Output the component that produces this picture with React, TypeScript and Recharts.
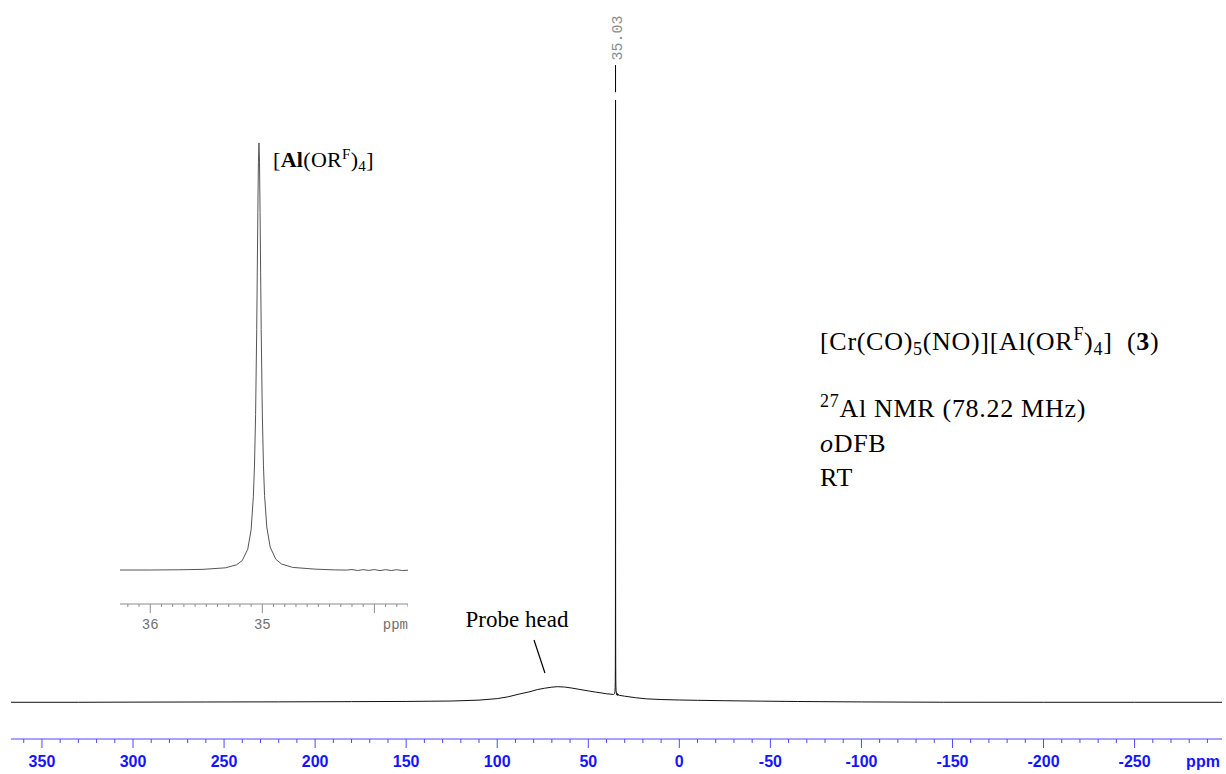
import React from 'react';
import { LineChart, Line, XAxis, YAxis, ReferenceLine } from 'recharts';

// 27Al spectrum: [chemical shift (ppm), intensity (tallest peak = 100)]
const baselineLowField: [number, number][] = [
  [367, 0.09], [330, 0.09], [300, 0.12], [260, 0.14], [220, 0.16], [180, 0.2],
  [150, 0.23], [125, 0.3], [110, 0.45], [100, 0.7],
];
const probeHeadHump: [number, number][] = [
  [94, 1.0], [88, 1.45], [82, 1.85], [78, 2.2], [74, 2.42], [70, 2.6], [67, 2.68],
  [63, 2.62], [59, 2.45], [55, 2.24], [50, 1.98], [46, 1.78], [43, 1.65], [40, 1.5],
  [37, 1.42],
];
const aluminatePeak: [number, number][] = [
  [36.27, 1.4], [36.0, 1.4], [35.75, 1.45], [35.53, 1.55], [35.33, 1.9], [35.23, 2.6],
  [35.18, 3.55], [35.13, 6.2], [35.1, 10.7], [35.08, 18.3], [35.07, 25.4], [35.06, 37.3],
  [35.05, 56.9], [35.045, 70.0], [35.04, 83.9], [35.035, 95.4], [35.03, 100],
  [35.025, 95.4], [35.02, 83.9], [35.015, 70.0], [35.01, 56.9], [35.0, 37.4],
  [34.99, 25.6], [34.98, 18.6], [34.96, 11.3], [34.93, 6.7], [34.88, 3.9], [34.83, 2.8],
  [34.73, 2.0], [34.53, 1.6], [34.35, 1.42], [34.25, 1.38], [34.2, 1.5], [34.15, 1.28],
  [34.1, 1.48], [34.05, 1.3], [34.0, 1.5], [33.95, 1.26], [33.9, 1.48], [33.85, 1.28],
  [33.8, 1.47], [33.75, 1.27], [33.7, 1.36],
];
const baselineHighField: [number, number][] = [
  [33.0, 1.25], [30, 1.1], [24, 0.85], [18, 0.66], [10, 0.55], [0, 0.47], [-10, 0.42],
  [-25, 0.35], [-45, 0.28], [-65, 0.22], [-100, 0.15], [-145, 0.1], [-200, 0.09],
  [-250, 0.09], [-298, 0.09],
];

const peakShift = 35.03;

// axes
const mainDomain: [number, number] = [-298, 367];
const mainMajorTicks = [350, 300, 250, 200, 150, 100, 50, 0, -50, -100, -150, -200, -250];
const mainMinorStep = 10;
const insetDomain: [number, number] = [33.7, 36.27];
const insetLabelledTicks = [36, 35];
const insetMajorTicks = [36, 35, 34];
const insetMinorStep = 0.1;

// annotation anchors, in ppm / intensity units
const peakMarker = [{ x: peakShift, y: 101.3 }, { x: peakShift, y: 105.8 }];
const probeHeadPointer = [{ x: 79.8, y: 10.42 }, { x: 73.8, y: 4.95 }];

const spectrum = [...baselineLowField, ...probeHeadHump, ...aluminatePeak, ...baselineHighField].map(
  ([ppm, intensity]) => ({ ppm, intensity })
);
const insetSpectrum = spectrum.filter((p) => p.ppm >= insetDomain[0] && p.ppm <= insetDomain[1]);

const mainTicks: number[] = [];
for (let v = 360; v >= -290; v -= mainMinorStep) mainTicks.push(v);
const insetTicks: number[] = [];
for (let i = Math.ceil(insetDomain[0] / insetMinorStep); i <= Math.floor(insetDomain[1] / insetMinorStep); i++) {
  insetTicks.push(Math.round(i) / 10);
}

const SERIF = "'Liberation Serif', 'Times New Roman', serif";
const SANS = "'Liberation Sans', Arial, Helvetica, sans-serif";
const MONO = "'Liberation Mono', 'Courier New', monospace";
const AXIS_BLUE = '#4b4bff';
const LABEL_BLUE = '#1414ff';
const INSET_GREY = '#8c8c8c';

const MainTick = (props: any) => {
  const { x, y, payload } = props;
  const v = payload.value as number;
  const major = mainMajorTicks.includes(v);
  return (
    <g>
      <line x1={x} x2={x} y1={y} y2={y + (major ? 9 : 4)} stroke={AXIS_BLUE} strokeWidth={1} />
      {major && (
        <text x={x} y={y + 28} textAnchor="middle" fill={LABEL_BLUE} fontFamily={SANS} fontWeight="bold" fontSize={16}>
          {v}
        </text>
      )}
    </g>
  );
};

const InsetTick = (props: any) => {
  const { x, y, payload } = props;
  const v = payload.value as number;
  const major = insetMajorTicks.some((m) => Math.abs(m - v) < 1e-6);
  const labelled = insetLabelledTicks.some((m) => Math.abs(m - v) < 1e-6);
  return (
    <g>
      <line x1={x} x2={x} y1={y} y2={y + (major ? 9 : 3)} stroke={INSET_GREY} strokeWidth={1} />
      {labelled && (
        <text x={x} y={y + 25} textAnchor="middle" fill="#707070" fontFamily={MONO} fontSize={14}>
          {Math.round(v)}
        </text>
      )}
    </g>
  );
};

const peakLabel = (props: any) => {
  const vb = props.viewBox || { x: 0, y: 0 };
  const cx = vb.x + 3;
  const cy = vb.y - 27;
  return (
    <text
      x={cx}
      y={cy}
      transform={`rotate(-90 ${cx} ${cy})`}
      textAnchor="middle"
      dominantBaseline="central"
      fill="#8a8a8a"
      fontFamily={MONO}
      fontSize={15}
    >
      {peakShift.toFixed(2)}
    </text>
  );
};

const probeHeadLabel = (props: any) => {
  const vb = props.viewBox || { x: 0, y: 0 };
  return (
    <text x={vb.x - 17} y={vb.y - 13} textAnchor="middle" fill="#000" fontFamily={SERIF} fontSize={23}>
      Probe head
    </text>
  );
};

export default function App() {
  return (
    <div style={{ position: 'absolute', left: 0, top: 0, width: 1226, height: 774, background: '#fff' }}>
      <LineChart width={1226} height={774} data={spectrum} margin={{ top: 0, right: 4, bottom: 0, left: 11 }}>
        <XAxis
          type="number"
          dataKey="ppm"
          domain={mainDomain}
          reversed
          allowDataOverflow
          ticks={mainTicks}
          interval={0}
          height={35}
          tickSize={0}
          tickMargin={0}
          tickLine={false}
          axisLine={{ stroke: AXIS_BLUE, strokeWidth: 1 }}
          tick={<MainTick />}
        />
        <YAxis type="number" domain={[-6, 116.6]} hide allowDataOverflow />
        <Line
          type="linear"
          dataKey="intensity"
          stroke="#111"
          strokeWidth={1}
          dot={false}
          activeDot={false}
          isAnimationActive={false}
        />
        <ReferenceLine segment={peakMarker} stroke="#000" strokeWidth={1} label={peakLabel} />
        <ReferenceLine segment={probeHeadPointer} stroke="#000" strokeWidth={1.2} label={probeHeadLabel} />
      </LineChart>

      <div style={{ position: 'absolute', left: 120, top: 130 }}>
        <LineChart width={288} height={504} data={insetSpectrum} margin={{ top: 0, right: 0, bottom: 0, left: 0 }}>
          <XAxis
            type="number"
            dataKey="ppm"
            domain={insetDomain}
            reversed
            allowDataOverflow
            ticks={insetTicks}
            interval={0}
            height={30}
            tickSize={0}
            tickMargin={0}
            tickLine={false}
            axisLine={{ stroke: INSET_GREY, strokeWidth: 1 }}
            tick={<InsetTick />}
          />
          <YAxis type="number" domain={[-6.45, 102.99]} hide allowDataOverflow />
          <Line
            type="linear"
            dataKey="intensity"
            stroke="#555"
            strokeWidth={1}
            dot={false}
            activeDot={false}
            isAnimationActive={false}
          />
        </LineChart>
      </div>

      <svg width={1226} height={774} style={{ position: 'absolute', left: 0, top: 0, pointerEvents: 'none' }}>
        <text x={1203} y={767} textAnchor="middle" fill={LABEL_BLUE} fontFamily={SANS} fontWeight="bold" fontSize={16}>
          ppm
        </text>
        <text x={408} y={629} textAnchor="end" fill="#707070" fontFamily={MONO} fontSize={14}>
          ppm
        </text>

        <g fontFamily={SERIF} fill="#000">
          <text x={273} y={167} fontSize={22} letterSpacing={0.3}>
            [<tspan fontWeight="bold">Al</tspan>(OR<tspan fontSize={15} dy={-8}>F</tspan>
            <tspan dy={8}>)</tspan>
            <tspan fontSize={15} dy={4}>4</tspan>
            <tspan dy={-4}>]</tspan>
          </text>

          <g fontSize={26} letterSpacing={0.7}>
            <text x={820} y={350} style={{ whiteSpace: 'pre' }}>
              [Cr(CO)<tspan fontSize={18} dy={5}>5</tspan>
              <tspan dy={-5}>(NO)][Al(OR</tspan>
              <tspan fontSize={18} dy={-10}>F</tspan>
              <tspan dy={10}>)</tspan>
              <tspan fontSize={18} dy={5}>4</tspan>
              <tspan dy={-5}>]  (</tspan>
              <tspan fontWeight="bold">3</tspan>)
            </text>
            <text x={820} y={417}>
              <tspan fontSize={18} dy={-10}>27</tspan>
              <tspan dy={10}>Al NMR (78.22 MHz)</tspan>
            </text>
            <text x={820} y={452}>
              <tspan fontStyle="italic">o</tspan>DFB
            </text>
            <text x={820} y={486}>RT</text>
          </g>
        </g>
      </svg>
    </div>
  );
}
